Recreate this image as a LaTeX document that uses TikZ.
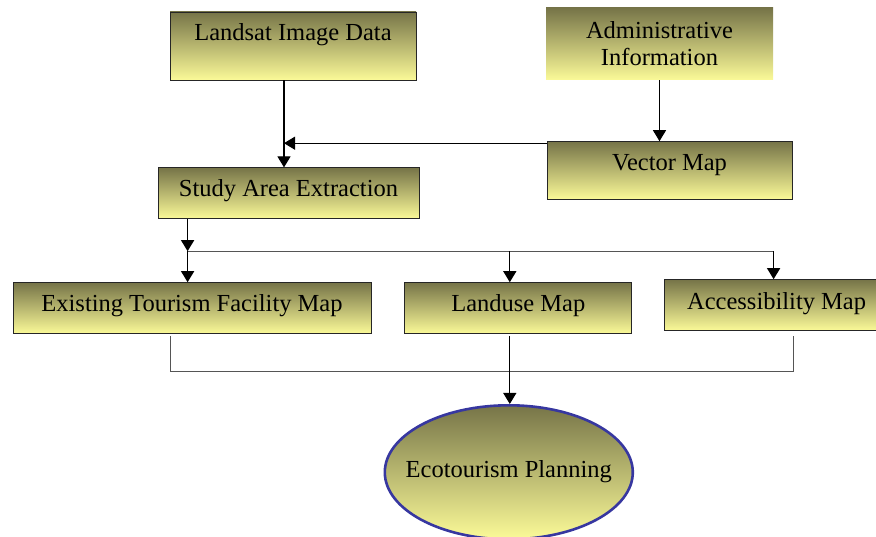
\documentclass[tikz,border=0pt]{standalone}
\usepackage{fontspec}
\setmainfont{Liberation Serif}
\usepackage{tikz}
\usetikzlibrary{arrows.meta}
\usetikzlibrary{positioning}
\usetikzlibrary{shapes.geometric}

\definecolor{shadetop}{RGB}{118,116,72}
\definecolor{shadebot}{RGB}{251,250,152}
\definecolor{ringblue}{RGB}{55,55,160}
\definecolor{linkgray}{RGB}{85,85,85}

\tikzset{
  plain/.style={top color=shadetop, bottom color=shadebot, inner sep=0pt,
    font=\fontsize{24.5}{27}\selectfont, text height=18pt, text depth=10.8pt},
  box/.style={plain, draw=black!85, line width=0.8pt},
  plan/.style={ellipse, plain, draw=ringblue, line width=2.6pt, inner xsep=-40pt,
    minimum width=248pt, minimum height=134pt, text depth=7.8pt},
  arr/.style={-{Triangle[width=13pt,length=11pt]}, line width=1.2pt},
  link/.style={draw=linkgray, line width=0.9pt}
}

\begin{document}
\begin{tikzpicture}[x=1pt, y=-1pt]
        \useasboundingbox (0,0) rectangle (876,537);
        \node[box, minimum width=246pt, minimum height=68pt, text depth=28.8pt] (land) at (293,46) {Landsat Image Data};
        \node[plain, minimum width=227pt, minimum height=72pt, align=center, text height=, text depth=] (admin) at (659.5,44) {Administrative\\Information};
        \node[box, below=61pt of admin, xshift=10pt, minimum width=245pt, minimum height=58pt, text depth=17.8pt] (vecmap) {Vector Map};
        \node[box, below=87pt of land, xshift=-4.5pt, minimum width=261pt, minimum height=51pt, text depth=11.8pt] (study) {Study Area Extraction};
        \node[box, below=63pt of study, xshift=-96.5pt, minimum width=358pt, minimum height=51pt] (exist) {Existing Tourism Facility Map};
        \node[box, right=33pt of exist, minimum width=227pt, minimum height=51pt] (landuse) {Landuse Map};
        \node[box, right=32pt of landuse, yshift=3pt, minimum width=224pt, minimum height=51pt, text depth=9.8pt] (access) {Accessibility Map};
        \node[plan, below=70pt of landuse, xshift=-9.5pt] (plan) {Ecotourism Planning};
        
        \coordinate (landdrop) at ([xshift=-9pt]land.south);
        \coordinate (split) at ([xshift=30pt, yshift=-32pt]study.south west);
        \coordinate (usedrop) at ([xshift=-8.5pt]landuse.north);
        \coordinate (accdrop) at ([xshift=-3pt]access.north);
        \coordinate (existbot) at ([xshift=-22pt, yshift=-2pt]exist.south);
        \coordinate (usebot) at ([xshift=-8.5pt, yshift=-2pt]landuse.south);
        \coordinate (accbot) at ([xshift=17pt, yshift=-5pt]access.south);
        \coordinate (merge) at ([yshift=-35pt]usebot);
        
        \draw[arr] (landdrop) -- (landdrop |- study.north);
        \draw[arr] (admin.south) -- (admin.south |- vecmap.north);
        \draw[arr] ([yshift=-2pt]vecmap.north west) -- ([yshift=-2pt]vecmap.north west -| landdrop);
        
        \draw[arr] (split |- study.south) -- (split);
        \draw[link] (split) -- (split -| accdrop);
        \draw[arr] (split) -- (split |- exist.north);
        \draw[arr] (split -| usedrop) -- (usedrop);
        \draw[arr] (split -| accdrop) -- (accdrop);
        
        \draw[link] (existbot) -- (existbot |- merge) -- (accbot |- merge) -- (accbot);
        \draw[arr] (usebot) -- (usebot |- plan.north);
    \end{tikzpicture}
\end{document}
